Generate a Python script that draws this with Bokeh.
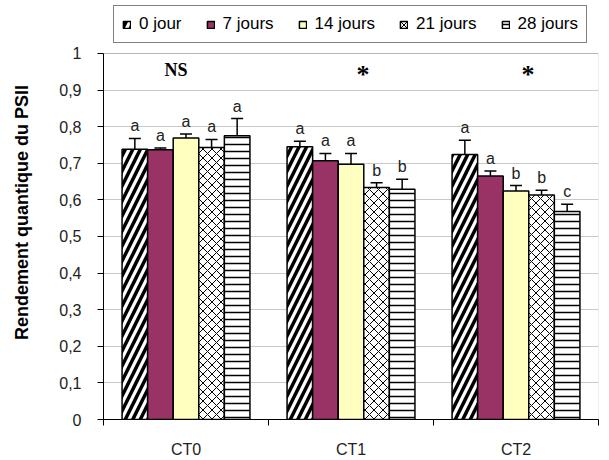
import numpy as np
from bokeh.plotting import figure
from bokeh.models import (ColumnDataSource, Range1d, FixedTicker, Legend, LegendItem,
                          Whisker, TeeHead, Label, BoxAnnotation)
from bokeh.embed import file_html
from bokeh.resources import INLINE

# ---- data ----
groups = ["CT0", "CT1", "CT2"]
series = ["0 jour", "7 jours", "14 jours", "21 jours", "28 jours"]
means = {
    "0 jour":   [0.738, 0.745, 0.724],
    "7 jours":  [0.737, 0.707, 0.665],
    "14 jours": [0.769, 0.697, 0.624],
    "21 jours": [0.743, 0.634, 0.613],
    "28 jours": [0.775, 0.629, 0.568],
}
err_tops = {
    "0 jour":   [0.768, 0.760, 0.763],
    "7 jours":  [0.742, 0.727, 0.679],
    "14 jours": [0.780, 0.727, 0.639],
    "21 jours": [0.765, 0.647, 0.626],
    "28 jours": [0.822, 0.656, 0.588],
}
letters = {
    "0 jour":   ["a", "a", "a"],
    "7 jours":  ["a", "a", "a"],
    "14 jours": ["a", "a", "b"],
    "21 jours": ["a", "b", "b"],
    "28 jours": ["a", "b", "c"],
}
group_marks = ["NS", "*", "*"]
ytick_vals = [0, 0.1, 0.2, 0.3, 0.4, 0.5, 0.6, 0.7, 0.8, 0.9, 1]
ytick_labels = ["0", "0,1", "0,2", "0,3", "0,4", "0,5", "0,6", "0,7", "0,8", "0,9", "1"]
y_min, y_max = 0, 1

styles = {
    "0 jour":   dict(fill_color="white", hatch_pattern="/", hatch_color="black", hatch_weight=3.5, hatch_scale=15),
    "7 jours":  dict(fill_color="#993366"),
    "14 jours": dict(fill_color="#FFFFC0"),
    "21 jours": dict(fill_color="white", hatch_pattern="x", hatch_color="black", hatch_weight=1, hatch_scale=9),
    "28 jours": dict(fill_color="white", hatch_pattern="-", hatch_color="black", hatch_weight=1.5, hatch_scale=7),
}

FONT = "Liberation Sans"

# frame extends above y=1 to host the legend; axis/plot box are bounded to [0, 1]
p = figure(width=609, height=460, output_backend="svg", toolbar_location=None,
           x_range=Range1d(0, 3), y_range=Range1d(y_min, 1.131),
           min_border_left=103, min_border_right=11, min_border_top=5, min_border_bottom=40)
p.background_fill_color = "white"
p.border_fill_color = "white"
p.outline_line_color = None

# plot-area box
p.add_layout(BoxAnnotation(left=0, right=3, bottom=y_min, top=y_max, level="underlay",
                           fill_alpha=0, line_color="#909090", line_width=1))

# axes
p.xaxis.ticker = FixedTicker(ticks=[0.5, 1.5, 2.5], minor_ticks=[0, 1, 2, 3])
p.xaxis.major_label_overrides = {i + 0.5: g for i, g in enumerate(groups)}
p.xaxis.major_tick_out = 0
p.xaxis.major_tick_in = 0
p.xaxis.minor_tick_out = 6
p.xaxis.minor_tick_in = 0
p.xaxis.minor_tick_line_color = "black"
p.xaxis.axis_line_color = "black"
p.xaxis.major_label_text_font = FONT
p.xaxis.major_label_text_font_size = "16px"
p.xaxis.major_label_text_color = "#222222"
p.xaxis.major_label_standoff = 15

p.yaxis.ticker = FixedTicker(ticks=ytick_vals, minor_ticks=[])
p.yaxis.bounds = (y_min, y_max)
p.yaxis.major_label_overrides = dict(zip(ytick_vals, ytick_labels))
p.yaxis.major_tick_out = 6
p.yaxis.major_tick_in = 0
p.yaxis.major_tick_line_color = "black"
p.yaxis.axis_line_color = "black"
p.yaxis.major_label_text_font = FONT
p.yaxis.major_label_text_font_size = "16px"
p.yaxis.major_label_text_color = "#222222"
p.yaxis.major_label_standoff = 16
p.yaxis.axis_label = "Rendement quantique du PSII"
p.yaxis.axis_label_text_font = FONT
p.yaxis.axis_label_text_font_style = "bold"
p.yaxis.axis_label_text_font_size = "18px"
p.yaxis.axis_label_text_color = "black"
p.yaxis.axis_label_standoff = 24

p.xgrid.grid_line_color = None
p.ygrid.grid_line_color = "#c8c8c8"
p.ygrid.grid_line_width = 1

bar_w = 0.155
n = len(series)
items = []
for i, s in enumerate(series):
    xs = np.arange(len(groups)) + 0.5 + (i - (n - 1) / 2) * bar_w
    src = ColumnDataSource(dict(x=xs, top=means[s], up=err_tops[s], lab=letters[s]))
    r = p.vbar(x="x", top="top", width=bar_w, source=src, line_color="black",
               line_width=1.5, **styles[s])
    items.append(LegendItem(label=s, renderers=[r]))
    p.add_layout(Whisker(base="x", upper="up", lower="top", source=src,
                         line_color="black", line_width=1.5,
                         upper_head=TeeHead(size=12, line_color="black", line_width=1.5),
                         lower_head=None))
    p.text(x="x", y="up", text="lab", source=src, text_align="center",
           text_baseline="bottom", y_offset=-4, text_font_size="16px",
           text_font={"value": FONT}, text_color="#222222")

# group significance marks
for i, m in enumerate(group_marks):
    if m == "NS":
        p.add_layout(Label(x=i + 0.5, y=0.955, text=m, x_offset=-10, text_align="center",
                           text_baseline="middle", text_font="Liberation Serif",
                           text_font_style="bold", text_font_size="18px", text_color="black"))
    else:
        p.add_layout(Label(x=i + 0.5, y=0.955, text=m, x_offset=12, y_offset=-5,
                           text_align="center", text_baseline="middle",
                           text_font="Liberation Serif", text_font_style="bold",
                           text_font_size="26px", text_color="black"))

legend = Legend(items=items, orientation="horizontal", location=(10, 376),
                border_line_color="black", border_line_width=1,
                background_fill_color="white", background_fill_alpha=1,
                label_text_font=FONT, label_text_font_size="17px",
                label_text_color="black",
                glyph_width=9, glyph_height=9, label_standoff=8,
                spacing=24, padding=8, margin=0)
p.add_layout(legend, "center")

open("out.html", "w").write(file_html(p, INLINE))
